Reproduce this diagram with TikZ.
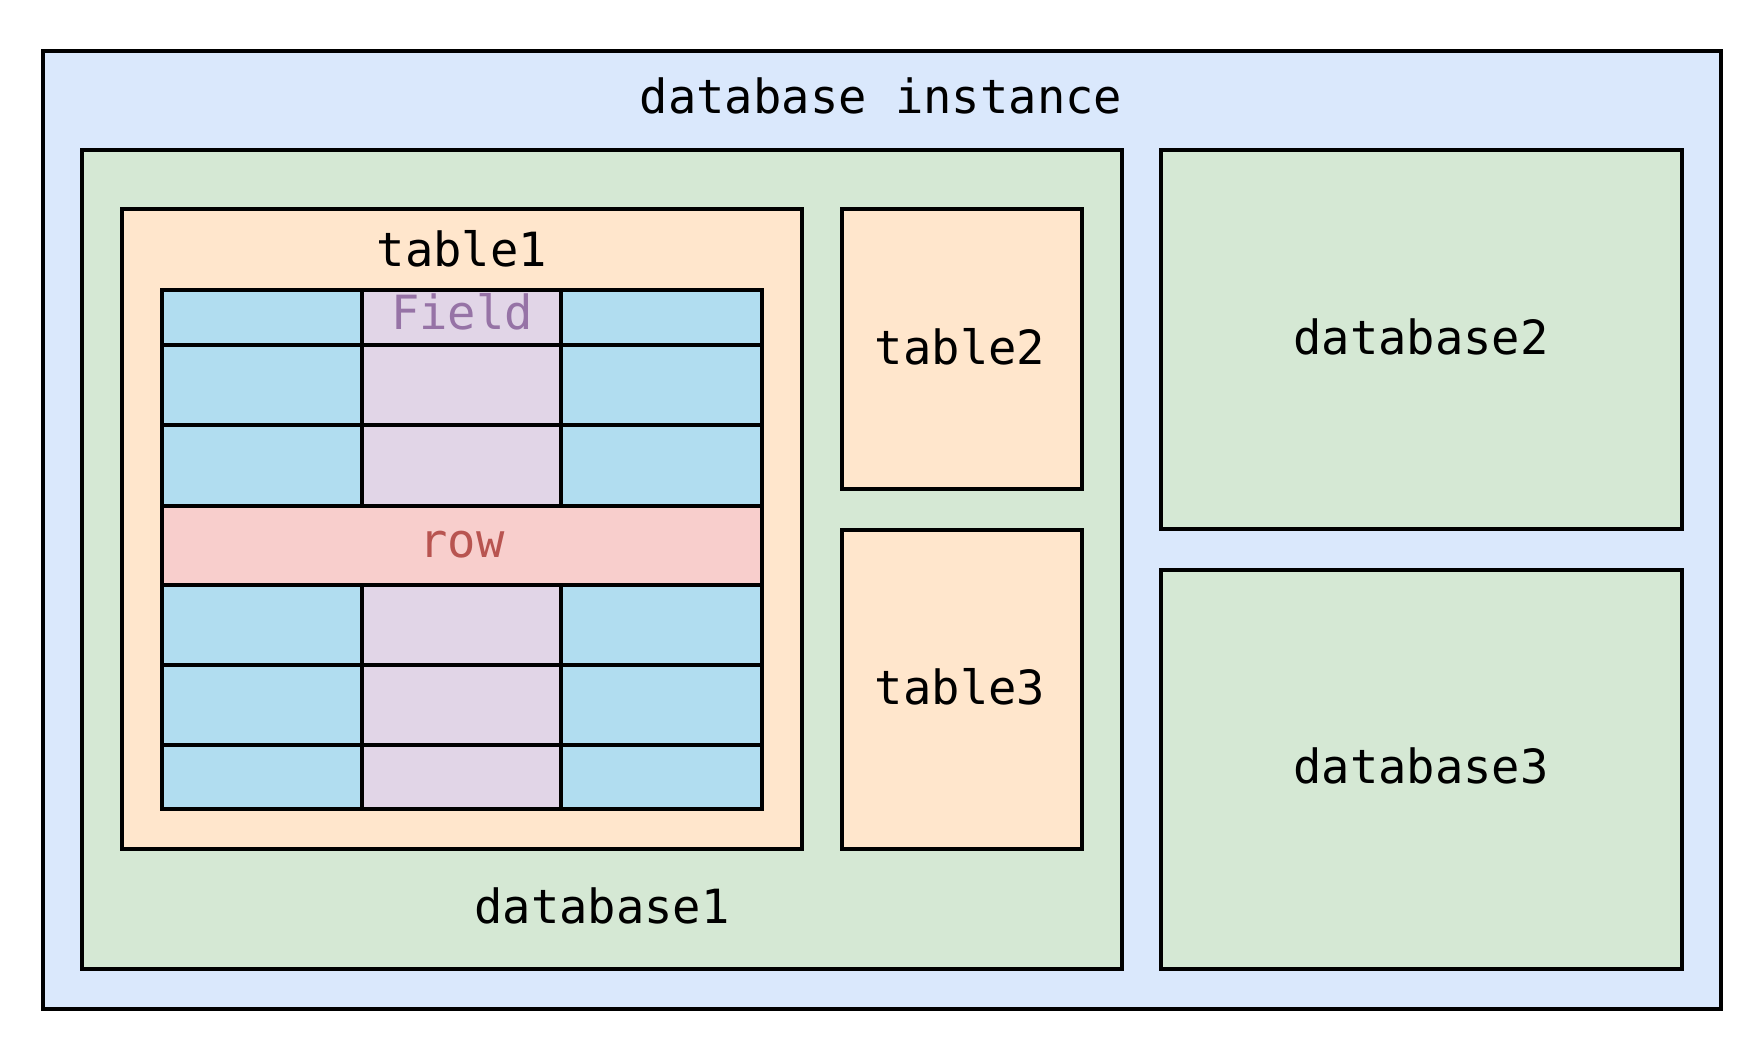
\documentclass[tikz,border=0pt]{standalone}
\usepackage{fontspec}
\newfontfamily\labelfont{DejaVu Sans Mono}
\definecolor{instblue}{HTML}{DAE8FC}
\definecolor{dbgreen}{HTML}{D5E8D4}
\definecolor{taborange}{HTML}{FFE6CC}
\definecolor{cellblue}{HTML}{B1DDF0}
\definecolor{fieldpurple}{HTML}{E1D5E7}
\definecolor{fieldtext}{HTML}{9673A6}
\definecolor{rowpink}{HTML}{F8CECC}
\definecolor{rowtext}{HTML}{B85450}
\tikzset{
  box/.style={draw=black, line width=1.15pt},
  lbl/.style={anchor=base, inner sep=0pt, font=\labelfont\fontsize{13.4}{16}\selectfont},
  gridline/.style={draw=black, line width=1.15pt}
}
\begin{document}
\begin{tikzpicture}[x=0.01cm, y=-0.01cm]
\useasboundingbox[fill=white] (0,0) rectangle (1764,1052);
% database instance
\path[box, fill=instblue] (43,51) rectangle (1721,1009);
\node[lbl] (inst) at (881,114) {database instance};
% database1
\path[box, fill=dbgreen] (82,150) rectangle (1122,969);
\node[lbl] (db1) at (602,923) {database1};
% table1
\path[box, fill=taborange] (122,209) rectangle (802,849);
\node[lbl] (t1) at (462,267) {table1};
% grid
\fill[cellblue] (162,290) rectangle (762,809);
\fill[fieldpurple] (362,290) rectangle (561,809);
\fill[rowpink] (162,506) rectangle (762,585);
\foreach \yy in {345,425,506,585,665,745} {
  \draw[gridline] (162,\yy) -- (762,\yy);
}
\foreach \xx in {362,561} {
  \draw[gridline] (\xx,290) -- (\xx,506);
  \draw[gridline] (\xx,585) -- (\xx,809);
}
\draw[gridline] (162,290) rectangle (762,809);
\node[lbl, text=fieldtext] (field) at (462,330) {Field};
\node[lbl, text=rowtext] (row) at (462,557) {row};
% table2, table3
\path[box, fill=taborange] (842,209) rectangle (1082,489);
\node[lbl] (t2) at (960,364) {table2};
\path[box, fill=taborange] (842,530) rectangle (1082,849);
\node[lbl] (t3) at (960,704) {table3};
% database2, database3
\path[box, fill=dbgreen] (1161,150) rectangle (1682,529);
\node[lbl] (db2) at (1421,354) {database2};
\path[box, fill=dbgreen] (1161,570) rectangle (1682,969);
\node[lbl] (db3) at (1421,783) {database3};
\end{tikzpicture}
\end{document}
